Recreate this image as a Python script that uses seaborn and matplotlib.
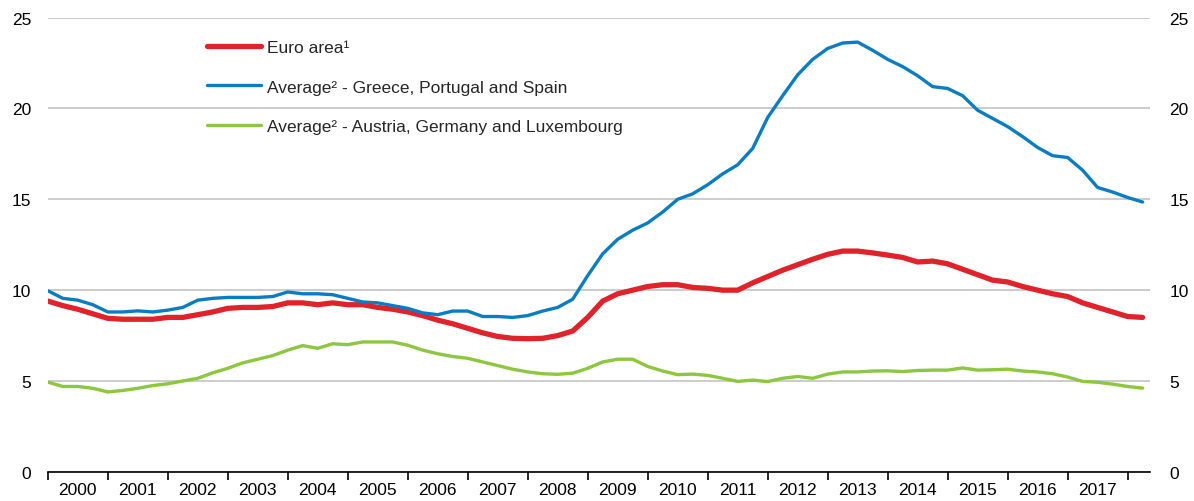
import numpy as np
import pandas as pd
import matplotlib
matplotlib.use("Agg")
import matplotlib.pyplot as plt
import seaborn as sns

# quarterly observations, 2000Q1 .. 2018Q2
quarters = pd.period_range("2000Q1", "2018Q2", freq="Q")

euro_area = [
    9.4, 9.15, 8.95, 8.7,
    8.45, 8.4, 8.4, 8.4,
    8.5, 8.5, 8.65, 8.8,
    9.0, 9.05, 9.05, 9.1,
    9.3, 9.3, 9.2, 9.3,
    9.2, 9.2, 9.05, 8.95,
    8.8, 8.6, 8.35, 8.15,
    7.9, 7.65, 7.45, 7.35,
    7.33, 7.35, 7.5, 7.75,
    8.5, 9.4, 9.8, 10.0,
    10.2, 10.3, 10.3, 10.15,
    10.1, 10.0, 10.0, 10.4,
    10.75, 11.1, 11.4, 11.7,
    11.97, 12.15, 12.15, 12.05,
    11.93, 11.8, 11.55, 11.6,
    11.45, 11.15, 10.85, 10.55,
    10.45, 10.2, 10.0, 9.8,
    9.65, 9.3, 9.05, 8.8,
    8.55, 8.5,
]

south = [
    9.97, 9.55, 9.45, 9.2,
    8.8, 8.8, 8.86, 8.8,
    8.9, 9.05, 9.45, 9.55,
    9.6, 9.6, 9.6, 9.65,
    9.9, 9.8, 9.8, 9.75,
    9.55, 9.35, 9.3, 9.15,
    9.0, 8.75, 8.65, 8.85,
    8.85, 8.55, 8.55, 8.5,
    8.6, 8.85, 9.05, 9.5,
    10.8, 12.0, 12.8, 13.3,
    13.7, 14.3, 15.0, 15.3,
    15.8, 16.4, 16.9, 17.8,
    19.5, 20.7, 21.85, 22.7,
    23.3, 23.6, 23.65, 23.2,
    22.7, 22.3, 21.8, 21.2,
    21.1, 20.7, 19.9, 19.45,
    19.0, 18.45, 17.85, 17.4,
    17.3, 16.6, 15.65, 15.4,
    15.1, 14.85,
]

core = [
    4.94, 4.7, 4.7, 4.6,
    4.4, 4.48, 4.6, 4.75,
    4.85, 5.0, 5.15, 5.45,
    5.7, 6.0, 6.2, 6.4,
    6.7, 6.95, 6.8, 7.05,
    7.0, 7.15, 7.15, 7.15,
    6.97, 6.7, 6.5, 6.35,
    6.25, 6.05, 5.85, 5.65,
    5.5, 5.4, 5.37, 5.43,
    5.7, 6.05, 6.2, 6.2,
    5.8, 5.55, 5.35, 5.38,
    5.31, 5.15, 4.98, 5.05,
    4.97, 5.15, 5.25, 5.15,
    5.38, 5.5, 5.5, 5.55,
    5.56, 5.52, 5.58, 5.6,
    5.6, 5.72, 5.6, 5.62,
    5.65, 5.55, 5.5, 5.4,
    5.22, 4.98, 4.93, 4.83,
    4.7, 4.61,
]

labels = [
    "Euro area¹",
    "Average² - Greece, Portugal and Spain",
    "Average² - Austria, Germany and Luxembourg",
]
colors = ["#E0232B", "#0A7DC2", "#8DC63F"]
widths = [3.8, 2.4, 2.4]
years = list(range(2000, 2018))

sns.set_theme(style="white")
plt.rcParams["font.family"] = ["Liberation Sans", "DejaVu Sans"]
fs = 12.5

t = quarters.year + (quarters.quarter - 1) / 4.0
df = pd.DataFrame({"t": t, labels[0]: euro_area, labels[1]: south, labels[2]: core})

fig = plt.figure(figsize=(11.94, 5.02), dpi=100)
ax = fig.add_axes([0.04, 0.058, 0.923, 0.905])

for name, c, lw in zip(labels, colors, widths):
    sns.lineplot(data=df, x="t", y=name, ax=ax, color=c, linewidth=lw,
                 label=name, solid_capstyle="round")

ax.set_xlim(2000, 2018.37)
ax.set_ylim(0, 25)
ax.set_yticks(range(0, 26, 5))
ax.set_xlabel("")
ax.set_ylabel("")

# year boundaries as ticks, labels in the middle of each year
ax.set_xticks(range(2000, 2019))
ax.set_xticklabels([])
ax.set_xticks([y + 0.5 for y in years], minor=True)
ax.set_xticklabels([str(y) for y in years], minor=True)
ax.tick_params(axis="x", which="major", length=6, width=1.2, color="black",
               direction="out", bottom=True)
ax.tick_params(axis="x", which="minor", length=0, pad=7, labelsize=fs,
               labelcolor="black")

ax.grid(axis="y", color="#c8c8c8", linewidth=1.3)
ax.grid(axis="x", visible=False)
for side in ["left", "right", "top"]:
    ax.spines[side].set_visible(False)
ax.spines["bottom"].set_color("black")
ax.spines["bottom"].set_linewidth(1.2)
ax.tick_params(axis="y", length=0, pad=12, labelsize=fs, labelcolor="black")

# right-hand copy of the scale
ax2 = ax.twinx()
ax2.set_ylim(0, 25)
ax2.set_yticks(range(0, 26, 5))
ax2.tick_params(axis="y", length=0, pad=14, labelsize=fs, labelcolor="black")
for side in ["left", "right", "top", "bottom"]:
    ax2.spines[side].set_visible(False)
ax2.grid(False)

ax.legend(loc="upper left", bbox_to_anchor=(0.1445, 0.95), frameon=False,
          handlelength=3.1, handletextpad=0.35, labelspacing=1.38,
          borderpad=0, borderaxespad=0, fontsize=fs)

fig.savefig("out.png", dpi=100)
